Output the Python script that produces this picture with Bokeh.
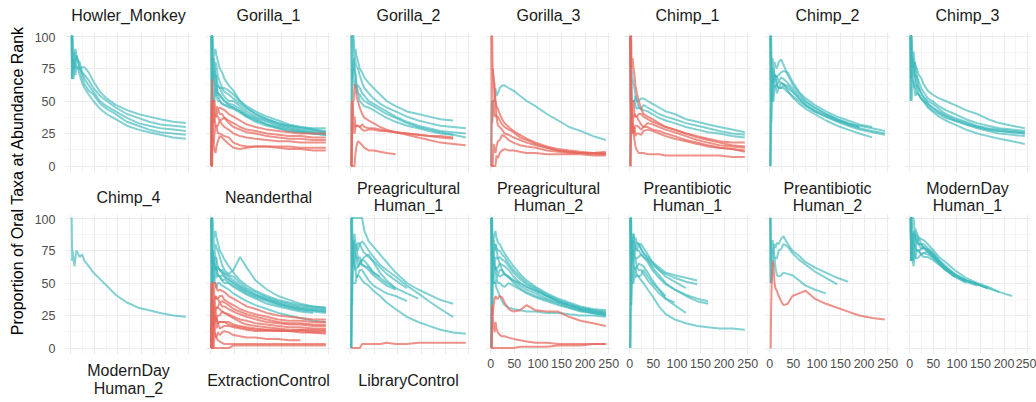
import math

from bokeh.embed import file_html
from bokeh.layouts import column, row
from bokeh.models import ColumnDataSource, FixedTicker, Grid, Label, Range1d
from bokeh.plotting import figure
from bokeh.resources import INLINE

# Abundance ranks at which every curve is sampled
RANKS = [1, 2, 3, 4, 6, 8, 10, 12, 15, 19, 24, 29, 38, 48, 62, 76, 95, 119, 143, 166, 190, 217, 244]

X_TICKS = [0, 50, 100, 150, 200, 250]
X_MINOR = [25, 75, 125, 175, 225]
Y_TICKS = [0, 25, 50, 75, 100]
Y_MINOR = [12.5, 37.5, 62.5, 87.5]

# One list per sample: proportion (%) of oral taxa among the top-N taxa, N = RANKS[i]
HOWLER_MONKEY_TEAL = [
    [100, 100, 100, 75, 83, 88, 80, 85, 81, 75, 76, 76, 72, 65, 57, 52, 47, 43, 40, 38, 36, 34, 33],
    [100, 100, 67, 75, 83, 75, 80, 77, 75, 75, 72, 70, 66, 60, 54, 50, 45, 40, 37, 34, 32, 31, 30],
    [100, 100, 67, 75, 67, 75, 80, 85, 81, 80, 72, 67, 62, 57, 50, 46, 42, 37, 33, 31, 29, 28, 27],
    [100, 100, 100, 100, 83, 88, 90, 85, 81, 75, 68, 63, 58, 55, 48, 44, 40, 34, 31, 28, 26, 25, 24],
    [100, 100, 67, 75, 83, 75, 70, 77, 75, 70, 64, 60, 55, 50, 44, 40, 36, 31, 28, 26, 24, 22, 21],
]
HOWLER_MONKEY_CORAL = []

GORILLA_1_TEAL = [
    [100, 100, 100, 100, 83, 88, 90, 85, 81, 75, 72, 67, 62, 58, 50, 45, 40, 36, 33, 31, 30, 29, 29],
    [100, 100, 67, 75, 67, 63, 70, 62, 62, 60, 60, 60, 58, 55, 50, 46, 42, 38, 35, 32, 30, 28, 27],
    [100, 50, 67, 75, 83, 75, 80, 77, 69, 65, 60, 57, 55, 52, 48, 44, 40, 36, 33, 31, 29, 28, 26],
    [0, 50, 67, 75, 67, 75, 70, 69, 62, 60, 56, 53, 50, 50, 46, 42, 38, 35, 32, 30, 28, 27, 26],
    [100, 100, 100, 75, 83, 75, 70, 62, 56, 55, 52, 50, 48, 47, 44, 40, 37, 34, 31, 29, 27, 26, 25],
    [100, 50, 67, 50, 50, 63, 60, 62, 56, 55, 52, 50, 47, 45, 42, 39, 36, 32, 30, 28, 27, 25, 24],
    [100, 100, 67, 75, 67, 63, 60, 54, 56, 50, 48, 47, 45, 44, 41, 38, 35, 32, 29, 27, 26, 25, 24],
    [0, 50, 33, 50, 50, 50, 60, 54, 50, 50, 48, 47, 46, 45, 42, 38, 34, 31, 29, 27, 26, 25, 24],
]
GORILLA_1_CORAL = [
    [0, 50, 67, 50, 50, 50, 40, 46, 44, 45, 44, 43, 40, 38, 35, 32, 30, 28, 27, 26, 25, 25, 25],
    [0, 0, 33, 25, 33, 38, 40, 38, 44, 40, 40, 37, 35, 33, 30, 28, 27, 25, 24, 23, 23, 22, 22],
    [0, 50, 33, 50, 50, 38, 40, 38, 38, 35, 36, 37, 33, 30, 28, 26, 25, 23, 22, 21, 21, 20, 20],
    [0, 0, 33, 50, 33, 38, 30, 31, 31, 35, 32, 30, 28, 25, 23, 22, 21, 20, 19, 19, 18, 18, 18],
    [0, 0, 0, 25, 17, 25, 30, 31, 25, 25, 24, 23, 22, 18, 16, 15, 15, 15, 15, 15, 14, 14, 14],
    [0, 50, 33, 25, 17, 12, 10, 15, 19, 23, 22, 20, 17, 14, 13, 14, 15, 15, 14, 13, 13, 12, 12],
]

GORILLA_2_TEAL = [
    [100, 100, 100, 100, 100, 88, 90, 85, 81, 75, 72, 68, 64, 60, 55, 50, 46, 42, 40, 38, 36, 35],
    [100, 100, 100, 100, 83, 88, 80, 77, 75, 70, 64, 60, 56, 52, 48, 45, 42, 38, 35, 33, 31, 30, 29],
    [100, 100, 67, 75, 83, 75, 70, 62, 62, 60, 56, 54, 50, 48, 45, 42, 38, 34, 31, 29, 27, 26, 25],
    [100, 50, 67, 75, 67, 63, 60, 62, 56, 55, 52, 50, 48, 46, 43, 40, 37, 33, 30, 28, 26, 24, 22],
    [0, 50, 67, 75, 83, 75, 70, 62, 56, 50, 48, 46, 45, 43, 40, 37, 34, 31, 29, 27, 25, 24],
]
GORILLA_2_CORAL = [
    [0, 0, 33, 50, 50, 63, 60, 54, 50, 45, 40, 37, 35, 33, 30, 28, 26, 25, 24, 23, 23, 22],
    [0, 0, 33, 25, 33, 25, 30, 31, 31, 30, 32, 30, 29, 29, 28, 27, 26, 24, 22, 20, 18, 17, 16],
    [0, 50, 33, 50, 33, 38, 30, 31, 31, 30, 28, 27, 28, 28, 27, 27, 26, 25, 24, 23, 22, 21],
    [0, 0, 0, 0, 0, 0, 10, 15, 19, 18, 16, 14, 12, 12, 11, 10, 9],
]

GORILLA_3_TEAL = [
    [0, 50, 33, 50, 50, 50, 60, 54, 56, 60, 62, 62, 60, 58, 54, 50, 46, 40, 35, 30, 27, 23, 20],
]
GORILLA_3_CORAL = [
    [100, 100, 100, 75, 67, 63, 50, 46, 44, 40, 36, 33, 30, 27, 24, 21, 18, 15, 13, 12, 11, 10, 10],
    [100, 50, 67, 75, 67, 50, 50, 38, 38, 35, 32, 30, 28, 26, 22, 20, 17, 14, 12, 11, 10, 10, 9],
    [0, 50, 33, 50, 50, 38, 40, 38, 31, 30, 28, 25, 24, 22, 20, 18, 16, 14, 12, 11, 10, 9, 9],
    [0, 0, 0, 0, 17, 12, 10, 15, 19, 20, 24, 23, 20, 18, 16, 15, 14, 12, 11, 10, 10, 10, 11],
    [0, 0, 0, 0, 0, 0, 0, 8, 6, 10, 12, 13, 12, 12, 11, 10, 10, 9, 9, 9, 9, 8, 8],
]

CHIMP_1_TEAL = [
    [100, 50, 67, 50, 50, 50, 50, 54, 50, 50, 52, 52, 50, 48, 45, 42, 40, 36, 34, 32, 30, 28, 26],
    [100, 100, 67, 75, 67, 63, 60, 54, 50, 45, 44, 47, 45, 43, 40, 38, 36, 33, 31, 29, 27, 25, 24],
    [0, 50, 67, 50, 50, 50, 50, 46, 44, 45, 44, 43, 42, 40, 37, 35, 33, 30, 28, 26, 25, 23, 22],
]
CHIMP_1_CORAL = [
    [100, 100, 100, 75, 83, 75, 70, 62, 56, 50, 44, 40, 38, 36, 33, 30, 28, 25, 23, 21, 19, 18, 18],
    [100, 50, 67, 50, 50, 50, 40, 38, 38, 40, 40, 38, 36, 34, 32, 30, 28, 25, 22, 20, 18, 16, 15],
    [0, 50, 33, 50, 33, 38, 40, 38, 38, 35, 32, 30, 33, 32, 30, 28, 26, 23, 20, 18, 16, 15, 14],
    [0, 0, 33, 25, 33, 25, 30, 31, 31, 30, 28, 30, 30, 28, 27, 25, 23, 20, 18, 16, 14, 13, 12],
    [100, 50, 33, 25, 33, 25, 30, 23, 25, 25, 24, 27, 28, 27, 25, 23, 21, 19, 17, 15, 14, 13, 11],
    [100, 50, 33, 50, 33, 25, 20, 15, 12, 10, 10, 10, 9, 9, 9, 8, 8, 8, 8, 8, 8, 7, 7],
]

CHIMP_2_TEAL = [
    [100, 50, 67, 75, 83, 75, 80, 77, 75, 80, 82, 78, 70, 63, 56, 50, 45, 40, 36, 33, 30],
    [0, 50, 67, 50, 67, 75, 70, 69, 69, 70, 72, 73, 72, 65, 57, 52, 47, 42, 38, 35, 32, 30],
    [100, 100, 67, 75, 67, 63, 70, 69, 69, 65, 68, 67, 64, 60, 54, 49, 45, 40, 36, 33, 31, 29, 27],
    [0, 50, 33, 50, 67, 63, 60, 62, 62, 65, 64, 63, 60, 57, 52, 47, 43, 39, 35, 32, 29, 27, 25],
    [100, 100, 100, 75, 67, 75, 70, 69, 62, 60, 60, 62, 62, 58, 52, 47, 42, 38, 34, 31, 28, 26, 24],
    [0, 0, 33, 50, 50, 63, 70, 69, 62, 60, 64, 63, 58, 53, 48, 44, 40, 35, 31, 28, 25, 22],
    [100, 50, 67, 50, 50, 50, 60, 62, 56, 60, 60, 60, 57, 54, 50, 46, 42, 38, 35, 32, 30],
]
CHIMP_2_CORAL = []

CHIMP_3_TEAL = [
    [100, 100, 100, 75, 83, 88, 80, 77, 75, 70, 68, 63, 58, 55, 52, 50, 47, 43, 40, 36, 33, 31, 29],
    [100, 100, 67, 75, 67, 75, 70, 69, 69, 65, 60, 57, 52, 50, 46, 43, 40, 36, 33, 31, 29, 28, 27],
    [100, 50, 67, 75, 83, 75, 80, 77, 69, 60, 56, 53, 50, 48, 44, 40, 37, 34, 31, 29, 28, 27, 26],
    [100, 100, 100, 100, 83, 75, 70, 62, 62, 60, 56, 53, 48, 45, 42, 39, 36, 33, 30, 28, 27, 26, 25],
    [100, 100, 67, 75, 67, 63, 60, 62, 56, 55, 52, 50, 46, 43, 40, 37, 35, 32, 29, 27, 25, 24, 23],
    [100, 50, 67, 50, 67, 63, 60, 54, 56, 55, 52, 50, 45, 42, 38, 35, 32, 28, 25, 23, 21, 19, 17],
    [100, 100, 100, 75, 83, 75, 80, 69, 62, 55, 52, 50, 48, 45, 41, 38, 35, 32, 30, 28, 27, 26, 25],
]
CHIMP_3_CORAL = []

CHIMP_4_TEAL = [
    [100, 100, 67, 75, 67, 63, 70, 75, 73, 70, 72, 67, 63, 58, 53, 48, 41, 35, 31, 29, 27, 25, 24],
]
CHIMP_4_CORAL = []

NEANDERTHAL_TEAL = [
    [100, 100, 100, 100, 83, 88, 90, 85, 81, 75, 72, 68, 63, 58, 52, 48, 44, 40, 37, 35, 33, 32, 31],
    [100, 100, 67, 75, 83, 75, 80, 77, 75, 70, 64, 60, 57, 60, 70, 62, 52, 45, 40, 37, 34, 32, 31],
    [100, 50, 67, 75, 67, 75, 70, 69, 62, 60, 60, 58, 56, 55, 50, 46, 43, 39, 36, 34, 32, 31, 30],
    [100, 100, 67, 50, 67, 63, 60, 62, 62, 60, 58, 57, 55, 52, 48, 45, 41, 38, 35, 33, 31, 30, 29],
    [0, 50, 67, 75, 67, 63, 70, 62, 56, 55, 56, 55, 53, 50, 46, 43, 40, 37, 34, 32, 30, 29, 28],
    [100, 50, 67, 50, 50, 63, 60, 62, 62, 60, 58, 55, 52, 50, 47, 44, 41, 37, 34, 32, 30, 29, 28],
    [0, 50, 33, 50, 50, 50, 60, 54, 56, 55, 52, 50, 50, 48, 45, 42, 39, 36, 33, 31, 29, 28, 27],
    [100, 50, 67, 75, 67, 63, 60, 62, 56, 55, 52, 53, 50, 47, 44, 41, 38, 34, 32, 30, 28, 27],
    [0, 50, 67, 50, 50, 50, 50, 46, 50, 50, 48, 47, 45, 42, 39, 36, 33, 30, 27, 25, 23, 21, 20],
]
NEANDERTHAL_CORAL = [
    [0, 50, 33, 50, 50, 50, 50, 46, 44, 45, 44, 43, 40, 38, 35, 32, 30, 27, 25, 24, 23, 22, 22],
    [0, 0, 33, 50, 50, 38, 40, 38, 38, 40, 40, 37, 35, 33, 30, 28, 26, 24, 22, 21, 21, 20, 20],
    [0, 50, 33, 25, 33, 38, 40, 38, 38, 35, 36, 35, 33, 30, 28, 26, 24, 22, 20, 19, 19, 18, 18],
    [0, 0, 33, 25, 33, 38, 30, 31, 31, 35, 32, 32, 30, 28, 26, 24, 22, 20, 19, 18, 18, 17, 17],
    [0, 0, 0, 25, 33, 25, 30, 31, 31, 30, 28, 27, 26, 24, 22, 21, 19, 18, 17, 16, 16, 15, 15],
    [0, 50, 33, 25, 17, 25, 20, 23, 25, 25, 28, 27, 25, 23, 20, 18, 17, 16, 15, 14, 14, 13, 13],
    [0, 0, 0, 25, 17, 25, 20, 23, 19, 20, 20, 20, 20, 18, 17, 16, 15, 14, 13, 13, 12, 12, 12],
    [0, 0, 33, 25, 17, 12, 20, 15, 19, 15, 16, 17, 17, 16, 15, 14, 13, 13, 13, 13, 14, 14, 14],
    [0, 0, 0, 0, 17, 12, 10, 8, 12, 10, 12, 13, 12, 10, 9, 8, 8, 7, 7, 6, 6],
    [0, 0, 0, 0, 0, 12, 10, 8, 6, 5, 4, 3, 3, 3, 3, 3, 3, 3, 3, 3, 3, 3, 3],
    [0, 0, 0, 0, 0, 0, 0, 0, 0, 0, 0, 0, 0, 2, 2, 2, 2, 2, 2, 2, 2, 2, 2],
    [0, 0, 33, 25, 17, 25, 30, 23, 19, 20, 20, 20, 18, 17, 16, 15, 14, 14, 14, 13, 13, 12, 11],
]

PREAGRICULTURAL_HUMAN_1_TEAL = [
    [100, 100, 100, 100, 100, 100, 100, 100, 100, 100, 100, 90, 82, 78, 72, 66, 58, 50, 45, 41, 37, 34],
    [100, 50, 67, 75, 83, 75, 80, 77, 75, 80, 82, 80, 75, 70, 64, 60, 55, 48, 42, 36, 30, 24],
    [0, 50, 67, 75, 83, 88, 80, 77, 81, 80, 76, 73, 70, 67, 62, 57, 52, 46],
    [100, 50, 67, 50, 67, 63, 70, 69, 69, 65, 68, 70, 72, 66, 58, 52, 46],
    [0, 50, 67, 75, 67, 75, 70, 69, 62, 65, 64, 63, 60, 56, 52, 48, 45],
    [100, 100, 67, 75, 67, 63, 60, 54, 56, 55, 52, 50, 48, 44, 40, 35, 30, 24, 20, 17, 14, 12, 11],
    [0, 50, 33, 50, 50, 50, 50, 54, 56, 60, 60, 57, 52, 48, 45, 42, 40, 36],
    [100, 100, 100, 75, 83, 75, 70, 77, 69, 70, 64, 63, 62, 58, 55],
    [0, 50, 67, 75, 67, 63, 60, 62, 62, 65, 68, 67, 63, 58, 54, 50, 46, 42, 38],
]
PREAGRICULTURAL_HUMAN_1_CORAL = [
    [0, 0, 0, 0, 0, 0, 0, 0, 0, 0, 3, 3, 3, 3, 3, 4, 3, 3, 4, 4, 4, 4, 4],
]

PREAGRICULTURAL_HUMAN_2_TEAL = [
    [100, 100, 67, 75, 83, 88, 90, 85, 81, 80, 76, 73, 68, 63, 57, 52, 47, 42, 38, 35, 32, 30, 29],
    [100, 50, 67, 75, 67, 75, 80, 77, 75, 75, 72, 70, 65, 60, 55, 50, 46, 41, 37, 34, 31, 29, 28],
    [0, 50, 67, 75, 67, 63, 70, 69, 69, 70, 68, 67, 63, 58, 53, 49, 45, 40, 36, 33, 31, 29, 27],
    [100, 100, 67, 50, 67, 63, 60, 62, 62, 65, 64, 63, 60, 55, 50, 47, 44, 40, 36, 33, 30, 28, 26],
    [0, 50, 33, 50, 50, 63, 60, 62, 56, 60, 60, 57, 55, 52, 48, 45, 42, 38, 35, 32, 29, 27, 25],
    [100, 50, 67, 75, 67, 63, 60, 54, 56, 55, 56, 57, 55, 50, 46, 43, 40, 37, 34, 31, 29, 27, 26],
    [0, 50, 67, 50, 50, 50, 50, 54, 50, 50, 48, 47, 50, 48, 45, 42, 39, 36, 33, 31, 28, 27, 25],
    [100, 50, 33, 50, 50, 50, 50, 46, 44, 40, 36, 33, 31, 30, 29, 28, 28, 27, 27, 26, 25, 25, 24],
    [100, 100, 100, 75, 83, 75, 80, 77, 69, 65, 60, 57, 54, 52, 50, 47, 44, 40, 36, 33, 30, 28, 27],
]
PREAGRICULTURAL_HUMAN_2_CORAL = [
    [0, 0, 33, 25, 33, 38, 40, 38, 38, 40, 39, 35, 30, 28, 29, 33, 29, 28, 28, 24, 21, 19, 17],
    [0, 0, 33, 25, 17, 12, 20, 15, 12, 10, 9, 9, 8, 7, 6, 5, 4, 4, 3, 3, 3, 3, 3],
    [0, 0, 0, 0, 0, 0, 0, 0, 0, 0, 0, 0, 0, 0, 1, 1, 1, 1, 2, 2, 2, 3, 3],
]

PREANTIBIOTIC_HUMAN_1_TEAL = [
    [100, 100, 67, 75, 83, 88, 80, 85, 81, 80, 76, 73, 70, 66, 62, 58, 56, 54, 52],
    [0, 50, 67, 75, 67, 75, 80, 77, 75, 75, 72, 70, 68, 64, 60, 57, 54, 51, 49],
    [100, 50, 67, 75, 83, 75, 70, 77, 75, 80, 76, 73, 68, 62, 56, 50, 45, 40, 36, 34],
    [100, 100, 67, 75, 67, 63, 70, 69, 69, 70, 72, 70, 66, 60, 54, 49, 45, 41, 38, 36],
    [0, 50, 67, 50, 67, 63, 60, 62, 62, 65, 64, 63, 58, 52, 45, 38, 33, 27],
    [100, 50, 33, 50, 50, 50, 60, 54, 56, 55, 52, 50, 45, 40, 32, 26, 22, 19, 17, 16, 15, 15, 14],
    [100, 100, 100, 75, 67, 75, 70, 69, 62, 60, 60, 57, 52, 48, 42, 38, 35],
    [0, 50, 33, 50, 50, 63, 60, 62, 56, 55, 56, 60, 55, 50, 45, 40],
    [100, 50, 67, 75, 83, 88, 80, 77, 81, 80, 80, 77, 72, 66, 60, 55, 51, 46],
]
PREANTIBIOTIC_HUMAN_1_CORAL = []

PREANTIBIOTIC_HUMAN_2_TEAL = [
    [100, 100, 67, 75, 67, 75, 80, 77, 81, 80, 84, 86, 80, 75, 71, 66, 62, 58, 54, 51],
    [100, 50, 67, 75, 83, 75, 70, 69, 69, 75, 76, 80, 78, 73, 68, 64, 59, 54, 49],
    [100, 50, 67, 50, 67, 63, 70, 62, 56, 55, 56, 58, 57, 56, 52, 48, 45, 42],
]
PREANTIBIOTIC_HUMAN_2_CORAL = [
    [0, 0, 33, 50, 67, 63, 50, 46, 44, 40, 36, 33, 34, 40, 42, 44, 38, 34, 31, 28, 25, 23, 22],
]

MODERNDAY_HUMAN_1_TEAL = [
    [100, 100, 100, 100, 100, 100, 90, 92, 88, 85, 84, 83, 80, 76, 70, 66, 60, 54, 50, 47, 43, 40],
    [100, 100, 100, 75, 83, 88, 90, 85, 81, 85, 80, 80, 77, 74, 68, 63, 57, 52, 49],
    [100, 100, 67, 75, 83, 75, 80, 85, 88, 80, 80, 77, 74, 72, 67, 62, 57, 52, 49, 46],
    [100, 100, 67, 75, 83, 88, 80, 77, 81, 80, 76, 78, 75, 72, 66, 61, 56, 51],
    [100, 100, 100, 100, 83, 75, 80, 77, 75, 75, 76, 77, 76, 73, 67, 62, 56, 52, 49, 46, 43],
    [100, 100, 67, 75, 67, 75, 70, 77, 75, 75, 72, 73, 74, 70, 65, 60, 55, 51, 48],
    [100, 100, 67, 75, 67, 63, 70, 69, 75, 75, 72, 70, 70, 68, 64, 60, 55, 50],
    [100, 100, 100, 75, 83, 88, 90, 85, 81, 80, 80, 77, 75, 71, 66, 61, 56, 52, 49, 46],
    [100, 100, 67, 75, 67, 75, 70, 69, 69, 70, 72, 73, 72, 70, 65, 60, 55],
]
MODERNDAY_HUMAN_1_CORAL = []

MODERNDAY_HUMAN_2_TEAL = [
    [100, 100, 100, 100, 83, 88, 90, 85, 81, 80],
    [100, 100, 67, 75, 83, 75, 80],
    [100, 50, 67, 75, 67, 63],
]
MODERNDAY_HUMAN_2_CORAL = []

EXTRACTION_CONTROL_TEAL = []
EXTRACTION_CONTROL_CORAL = [
    [0, 50, 33, 25, 17, 12, 10, 8, 6, 5],
    [0, 0, 0, 0, 0, 0, 0, 0, 0, 0],
]

LIBRARY_CONTROL_TEAL = []
LIBRARY_CONTROL_CORAL = [
    [0, 0, 33, 25, 17, 12, 10],
]

PANELS = [
    ("Howler_Monkey", HOWLER_MONKEY_TEAL, HOWLER_MONKEY_CORAL),
    ("Gorilla_1", GORILLA_1_TEAL, GORILLA_1_CORAL),
    ("Gorilla_2", GORILLA_2_TEAL, GORILLA_2_CORAL),
    ("Gorilla_3", GORILLA_3_TEAL, GORILLA_3_CORAL),
    ("Chimp_1", CHIMP_1_TEAL, CHIMP_1_CORAL),
    ("Chimp_2", CHIMP_2_TEAL, CHIMP_2_CORAL),
    ("Chimp_3", CHIMP_3_TEAL, CHIMP_3_CORAL),
    ("Chimp_4", CHIMP_4_TEAL, CHIMP_4_CORAL),
    ("Neanderthal", NEANDERTHAL_TEAL, NEANDERTHAL_CORAL),
    ("Preagricultural\nHuman_1", PREAGRICULTURAL_HUMAN_1_TEAL, PREAGRICULTURAL_HUMAN_1_CORAL),
    ("Preagricultural\nHuman_2", PREAGRICULTURAL_HUMAN_2_TEAL, PREAGRICULTURAL_HUMAN_2_CORAL),
    ("Preantibiotic\nHuman_1", PREANTIBIOTIC_HUMAN_1_TEAL, PREANTIBIOTIC_HUMAN_1_CORAL),
    ("Preantibiotic\nHuman_2", PREANTIBIOTIC_HUMAN_2_TEAL, PREANTIBIOTIC_HUMAN_2_CORAL),
    ("ModernDay\nHuman_1", MODERNDAY_HUMAN_1_TEAL, MODERNDAY_HUMAN_1_CORAL),
    ("ModernDay\nHuman_2", MODERNDAY_HUMAN_2_TEAL, MODERNDAY_HUMAN_2_CORAL),
    ("ExtractionControl", EXTRACTION_CONTROL_TEAL, EXTRACTION_CONTROL_CORAL),
    ("LibraryControl", LIBRARY_CONTROL_TEAL, LIBRARY_CONTROL_CORAL),
]

FONT = "Liberation Sans"
TEAL = "#3DB8BC"
CORAL = "#E8675C"
GRID_MAJOR = "#EBEBEB"
GRID_MINOR = "#F2F2F2"
X_RANGE = (-11.2, 256)
Y_LO, Y_HI = -5, 102.7
FRAME_W = 126
PANEL_H = 140
Y_SCALE = PANEL_H / (Y_HI - Y_LO)

# per column: (left border, right border)
COL_BORDERS = [(37, 14), (0, 14), (0, 14), (0, 13), (0, 14), (0, 14), (0, 6)]


def base_figure(col, frame_h, bottom, x_range, y_range, show_x=False, show_y=False):
    left, right = COL_BORDERS[col]
    p = figure(
        frame_width=FRAME_W, frame_height=frame_h,
        min_border_top=0, min_border_bottom=bottom,
        min_border_left=left, min_border_right=right,
        x_range=x_range, y_range=y_range,
        x_axis_location="below" if show_x else None,
        y_axis_location="left" if show_y else None,
        toolbar_location=None, tools="", output_backend="svg",
    )
    p.outline_line_color = None
    p.background_fill_color = "white"
    p.border_fill_color = "white"
    return p


def strip(col, height, title, centers):
    """Facet label band above a panel; centers are pixel offsets from its top."""
    s = base_figure(col, height, 0, Range1d(0, 1), Range1d(0, height))
    s.grid.visible = False
    for text, yc in zip(title.split("\n"), centers):
        s.add_layout(Label(x=0.5, y=height - yc, text=text, text_align="center",
                           text_baseline="middle", text_font=FONT, text_font_size="16px",
                           text_color="#1A1A1A"))
    return s


def panel(idx, frame_h, bottom, y_lo, y_hi, show_x, show_y):
    title, teal, coral = PANELS[idx]
    col = idx % 7
    p = base_figure(col, frame_h, bottom, Range1d(*X_RANGE), Range1d(y_lo, y_hi),
                    show_x, show_y)
    p.center = [r for r in p.center if not isinstance(r, Grid)]
    for dim, major, minor in ((0, X_TICKS, X_MINOR), (1, Y_TICKS, Y_MINOR)):
        g = Grid(dimension=dim, ticker=FixedTicker(ticks=major, minor_ticks=minor))
        g.grid_line_color = GRID_MAJOR
        g.grid_line_width = 1
        g.minor_grid_line_color = GRID_MINOR
        g.minor_grid_line_width = 0.8
        p.add_layout(g, "center")

    axes = []
    if show_x:
        p.xaxis.ticker = FixedTicker(ticks=X_TICKS)
        axes.append(p.xaxis)
    if show_y:
        p.yaxis.ticker = FixedTicker(ticks=Y_TICKS)
        axes.append(p.yaxis)
    for ax in axes:
        ax.axis_line_color = None
        ax.major_tick_line_color = None
        ax.minor_tick_line_color = None
        ax.major_tick_out = 0
        ax.major_tick_in = 0
        ax.minor_tick_out = 0
        ax.major_label_text_font = FONT
        ax.major_label_text_font_size = "12.5px"
        ax.major_label_text_color = "#4D4D4D"
    if show_x:
        p.xaxis.major_label_standoff = 4
    if show_y:
        p.yaxis.major_label_standoff = 10

    for curves, color, alpha in ((teal, TEAL, 0.65), (coral, CORAL, 0.72)):
        if not curves:
            continue
        src = ColumnDataSource(dict(
            xs=[RANKS[:len(c)] for c in curves],
            ys=[list(c) for c in curves],
        ))
        p.multi_line(xs="xs", ys="ys", source=src, line_color=color,
                     line_alpha=alpha, line_width=2)
    return p


def title_centers(idx, single, double):
    return double if "\n" in PANELS[idx][0] else single


columns = []
for c in range(7):
    figs = []
    # first facet row: strip 0-32, panel 32-172, gap to 180
    figs.append(strip(c, 32, PANELS[c][0], [15]))
    figs.append(panel(c, PANEL_H, 8, Y_LO, Y_HI, False, c == 0))
    # second facet row: strip 180-214, panel 214-354
    i2 = 7 + c
    figs.append(strip(c, 34, PANELS[i2][0], title_centers(i2, [17], [7.5, 24.5])))
    if c < 3:
        figs.append(panel(i2, PANEL_H, 8, Y_LO, Y_HI, False, c == 0))
        # third facet row: strip 362-398, only the top of its panel fits
        i3 = 14 + c
        figs.append(strip(c, 36, PANELS[i3][0], title_centers(i3, [18], [8, 26])))
        figs.append(panel(i3, 4, 0, Y_HI - 4 / Y_SCALE, Y_HI, False, c == 0))
    else:
        figs.append(panel(i2, PANEL_H, 48, Y_LO, Y_HI, True, False))
    columns.append(column(*figs, spacing=0))

ytitle = figure(width=28, height=402, x_range=Range1d(0, 28), y_range=Range1d(0, 402),
                min_border=0, toolbar_location=None, tools="", output_backend="svg",
                x_axis_location=None, y_axis_location=None)
ytitle.outline_line_color = None
ytitle.grid.visible = False
ytitle.add_layout(Label(x=17, y=222, text="Proportion of Oral Taxa at Abundance Rank",
                        angle=math.pi / 2, text_align="center", text_baseline="middle",
                        text_font=FONT, text_font_size="16px", text_color="#000000"))

layout = row(ytitle, *columns, spacing=0)

open("out.html", "w").write(file_html(layout, INLINE))
